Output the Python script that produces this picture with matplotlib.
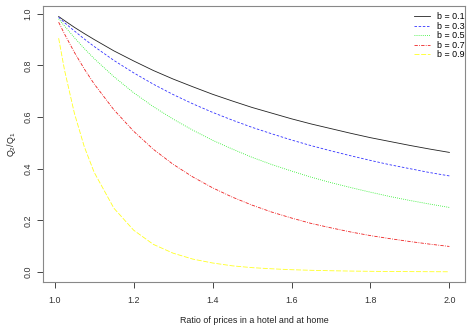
import matplotlib
matplotlib.use("Agg")
import matplotlib.pyplot as plt

plt.rcParams['font.family'] = ['Liberation Sans', 'DejaVu Sans']

# price ratio (hotel / home)
ratio = [1.01, 1.025, 1.05, 1.075, 1.10, 1.15, 1.20, 1.25, 1.30, 1.35, 1.40, 1.45,
         1.50, 1.55, 1.60, 1.65, 1.70, 1.75, 1.80, 1.85, 1.90, 1.95, 2.00]

# Q2/Q1 for each b
q_b01 = [0.989, 0.973, 0.947, 0.923, 0.900, 0.856, 0.817, 0.780, 0.747, 0.717, 0.688, 0.662,
         0.637, 0.615, 0.593, 0.573, 0.555, 0.537, 0.520, 0.505, 0.490, 0.476, 0.463]
q_b03 = [0.986, 0.965, 0.933, 0.902, 0.873, 0.819, 0.771, 0.727, 0.687, 0.651, 0.618, 0.588,
         0.560, 0.535, 0.511, 0.489, 0.469, 0.450, 0.432, 0.415, 0.400, 0.385, 0.372]
q_b05 = [0.980, 0.952, 0.907, 0.865, 0.826, 0.756, 0.694, 0.640, 0.592, 0.549, 0.510, 0.476,
         0.444, 0.416, 0.391, 0.367, 0.346, 0.327, 0.309, 0.292, 0.277, 0.263, 0.250]
q_b07 = [0.967, 0.921, 0.850, 0.786, 0.728, 0.628, 0.545, 0.475, 0.417, 0.368, 0.326, 0.290,
         0.259, 0.232, 0.209, 0.188, 0.171, 0.155, 0.141, 0.129, 0.118, 0.108, 0.099]
q_b09 = [0.905, 0.781, 0.614, 0.485, 0.386, 0.247, 0.162, 0.107, 0.073, 0.050, 0.035, 0.024,
         0.017, 0.0125, 0.009, 0.0067, 0.005, 0.0037, 0.0028, 0.0021, 0.0016, 0.0013, 0.001]

labels = ["b = 0.1", "b = 0.3", "b = 0.5", "b = 0.7", "b = 0.9"]

fig = plt.figure(figsize=(4.69, 3.25), dpi=100)
ax = fig.add_axes([0.0917, 0.1323, 0.8998, 0.8492])

styles = [
    dict(color='#222222', linestyle='-'),
    dict(color='#3333ff', linestyle=(0, (3, 2))),
    dict(color='#22ee22', linestyle=(0, (1, 1.5))),
    dict(color='#ee2222', linestyle=(0, (4, 1.5, 1, 1.5))),
    dict(color='#ffff22', linestyle=(0, (6, 2))),
]
for q, lab, st in zip([q_b01, q_b03, q_b05, q_b07, q_b09], labels, styles):
    ax.plot(ratio, q, linewidth=0.6, label=lab, **st)

ax.set_xlim(0.9704, 2.0396)
ax.set_ylim(-0.0386, 1.0296)
ax.set_xticks([1.0, 1.2, 1.4, 1.6, 1.8, 2.0])
ax.set_yticks([0.0, 0.2, 0.4, 0.6, 0.8, 1.0])
ax.set_xticklabels(["1.0", "1.2", "1.4", "1.6", "1.8", "2.0"])
ax.set_yticklabels(["0.0", "0.2", "0.4", "0.6", "0.8", "1.0"], rotation=90, va='center')

for s in ax.spines.values():
    s.set_color('#888888')
    s.set_linewidth(0.8)
ax.tick_params(direction='out', length=4, width=0.7, color='#444444',
               labelsize=6.4, labelcolor='#333333')
ax.tick_params(axis='x', pad=6)
ax.tick_params(axis='y', pad=3.5)

ax.set_xlabel("Ratio of prices in a hotel and at home", fontsize=6.4, color='#222222', labelpad=8)
ax.set_ylabel(r"$\mathregular{Q_2/Q_1}$", fontsize=6.4, color='#222222', labelpad=4)

ax.legend(loc='upper right', frameon=False, fontsize=6.4, handlelength=1.7,
          handletextpad=0.8, labelspacing=0.06, borderaxespad=0.3,
          bbox_to_anchor=(1.013, 1.0))

fig.savefig("out.png", dpi=100)
